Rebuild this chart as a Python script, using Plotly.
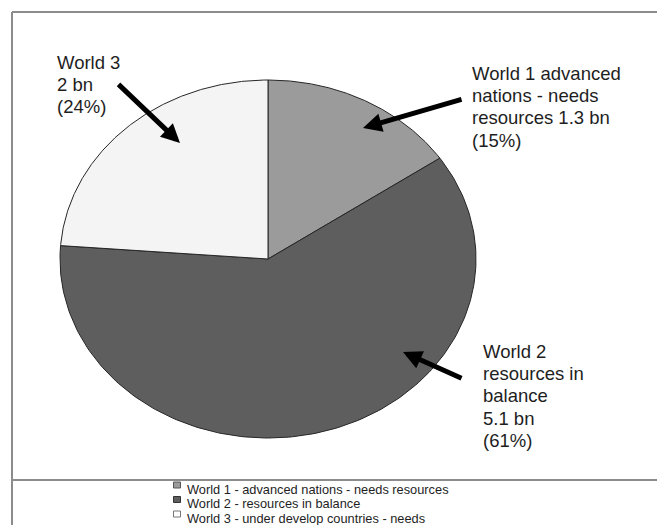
import numpy as np
import plotly.graph_objects as go

# ---- data ----
categories = ["World 1 - advanced nations - needs resources",
              "World 2 - resources in balance",
              "World 3 - under develop countries - needs"]
values_bn = [1.3, 5.1, 2.0]
shares_pct = [15, 61, 24]
slice_colors = ["#9b9b9b", "#5e5e5e", "#f4f4f4"]
legend_border = ["#555555", "#333333", "#777777"]
label_lines = [
    ["World 1 advanced", "nations - needs", "resources 1.3 bn", "(15%)"],
    ["World 2", "resources in", "balance", "5.1 bn", "(61%)"],
    ["World 3", "2 bn", "(24%)"],
]

W, H = 657, 525
CX, CY, RX, RY = 268, 259, 208, 179   # pie centre / radii in pixels

fig = go.Figure()

# pie drawn on a unit circle; axis scales stretch it to the ellipse
total = float(sum(values_bn))
start = 0.0
for name, v, col in zip(categories, values_bn, slice_colors):
    a0 = start / total * 2 * np.pi
    a1 = (start + v) / total * 2 * np.pi
    t = np.linspace(a0, a1, 200)
    u = np.concatenate([[0], np.sin(t), [0]])
    w = np.concatenate([[0], np.cos(t), [0]])
    fig.add_trace(go.Scatter(x=u, y=w, mode="lines", fill="toself",
                             fillcolor=col, line=dict(color="#262626", width=1),
                             name=name, showlegend=False, hoverinfo="name"))
    start += v

fig.update_xaxes(range=[-CX / RX, (W - CX) / RX], visible=False, fixedrange=True)
fig.update_yaxes(range=[(CY - H) / RY, CY / RY], visible=False, fixedrange=True)


def px(x):
    return x / W


def py(y):
    return 1 - y / H


ann = []
shapes = []
font_lab = dict(family="Liberation Sans, Arial, sans-serif", size=18.5, color="#1e1e1e")

# slice labels, one line each
label_pos = [(471, 73), (482, 351), (56, 62)]
step = 22.4
for lines, (x0, y0) in zip(label_lines, label_pos):
    for i, ln in enumerate(lines):
        ann.append(dict(x=px(x0), y=py(y0 + i * step), xref="paper", yref="paper",
                        text=ln, showarrow=False, xanchor="left", yanchor="middle",
                        font=font_lab, borderpad=0))

# arrows (tail -> tip)
arrows = [((463, 99), (363, 128)), ((463, 379), (403, 352)), ((117, 83), (180, 143))]
for (tx, ty), (hx, hy) in arrows:
    ann.append(dict(x=px(hx), y=py(hy), xref="paper", yref="paper", text="",
                    showarrow=True, ax=tx - hx, ay=ty - hy, axref="pixel", ayref="pixel",
                    arrowhead=2, arrowsize=0.75, arrowwidth=5, arrowcolor="#000000",
                    standoff=0, startstandoff=0))

# legend (manual)
font_leg = dict(family="Liberation Sans, Arial, sans-serif", size=12.8, color="#1e1e1e")
for i, (name, col, bc) in enumerate(zip(categories, slice_colors, legend_border)):
    ty = 489 + i * 14.5
    my = ty - 4
    shapes.append(dict(type="rect", xref="paper", yref="paper",
                       x0=px(173.5), x1=px(180.5), y0=py(my + 3), y1=py(my - 3),
                       fillcolor=col if i < 2 else "#ffffff",
                       line=dict(color=bc, width=1)))
    ann.append(dict(x=px(186), y=py(ty), xref="paper", yref="paper", text=name,
                    showarrow=False, xanchor="left", yanchor="middle",
                    font=font_leg, borderpad=0))

# frame lines
frame = "#8c8c8c"
shapes += [
    dict(type="line", xref="paper", yref="paper", x0=px(12), x1=1.02, y0=py(12), y1=py(12),
         line=dict(color=frame, width=2)),
    dict(type="line", xref="paper", yref="paper", x0=px(12), x1=px(12), y0=py(12), y1=-0.02,
         line=dict(color=frame, width=2)),
    dict(type="line", xref="paper", yref="paper", x0=px(12), x1=1.02, y0=py(480), y1=py(480),
         line=dict(color=frame, width=2)),
]

fig.update_layout(width=W, height=H, autosize=False,
                  margin=dict(l=0, r=0, t=0, b=0),
                  paper_bgcolor="#ffffff", plot_bgcolor="#ffffff",
                  showlegend=False, annotations=ann, shapes=shapes)

fig.write_html("out.html", config={"displayModeBar": False})
